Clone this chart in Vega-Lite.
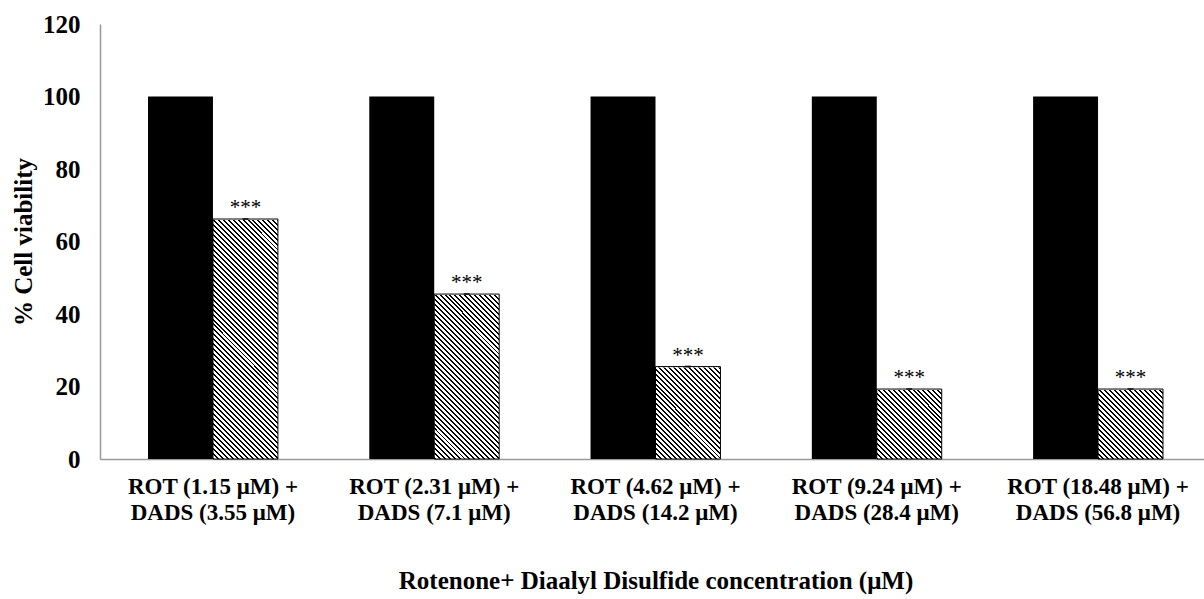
{
  "$schema": "https://vega.github.io/schema/vega-lite/v6.json",
  "width": 1111,
  "height": 435,
  "autosize": {"type": "none"},
  "padding": {"left": 100, "top": 24, "right": 0, "bottom": 140},
  "background": "white",
  "config": {
    "view": {"stroke": null},
    "font": "Liberation Serif",
    "axis": {"grid": false, "ticks": false, "domainColor": "#999999", "domainWidth": 1.5, "labelFont": "Liberation Serif", "labelFontWeight": "bold", "labelColor": "#000000", "titleFont": "Liberation Serif", "titleFontWeight": "bold", "titleColor": "#000000"},
    "axisY": {"labelFontSize": 25, "labelPadding": 20, "titleFontSize": 25, "titlePadding": 6, "tickCount": 6},
    "axisX": {"labelFontSize": 23, "labelPadding": 16, "labelLineHeight": 26, "labelAngle": 0, "labelLimit": 0, "titleFontSize": 25, "titlePadding": 44}
  },
  "data": {
    "values": [
      {"group": "ROT (1.15 μM) + DADS (3.55 μM)", "treatment": "Rotenone", "value": 100},
      {"group": "ROT (1.15 μM) + DADS (3.55 μM)", "treatment": "Rotenone + DADS", "value": 66.2, "sig": "***"},
      {"group": "ROT (2.31 μM) + DADS (7.1 μM)", "treatment": "Rotenone", "value": 100},
      {"group": "ROT (2.31 μM) + DADS (7.1 μM)", "treatment": "Rotenone + DADS", "value": 45.5, "sig": "***"},
      {"group": "ROT (4.62 μM) + DADS (14.2 μM)", "treatment": "Rotenone", "value": 100},
      {"group": "ROT (4.62 μM) + DADS (14.2 μM)", "treatment": "Rotenone + DADS", "value": 25.5, "sig": "***"},
      {"group": "ROT (9.24 μM) + DADS (28.4 μM)", "treatment": "Rotenone", "value": 100},
      {"group": "ROT (9.24 μM) + DADS (28.4 μM)", "treatment": "Rotenone + DADS", "value": 19.3, "sig": "***"},
      {"group": "ROT (18.48 μM) + DADS (56.8 μM)", "treatment": "Rotenone", "value": 100},
      {"group": "ROT (18.48 μM) + DADS (56.8 μM)", "treatment": "Rotenone + DADS", "value": 19.3, "sig": "***"}
    ]
  },
  "encoding": {
    "x": {
      "field": "group", "type": "nominal", "sort": null,
      "scale": {"paddingInner": 0.413, "paddingOuter": 0.217},
      "title": "Rotenone+ Diaalyl Disulfide concentration (μM)",
      "axis": {"labelExpr": "[split(datum.label, '+ ')[0] + '+', split(datum.label, '+ ')[1]]"}
    },
    "xOffset": {"field": "treatment", "type": "nominal", "sort": ["Rotenone", "Rotenone + DADS"], "scale": {"paddingInner": 0, "paddingOuter": 0}}
  },
  "layer": [
    {
      "transform": [{"filter": "datum.treatment === 'Rotenone + DADS'"}],
      "mark": {
        "type": "bar",
        "fill": {
          "gradient": "linear", "x1": 0, "y1": 1, "x2": 0.3166, "y2": -0.1829,
          "stops": [
            {"offset":0,"color":"#000"},{"offset":0.0065,"color":"#000"},{"offset":0.0065,"color":"#fff"},{"offset":0.0161,"color":"#fff"},
            {"offset":0.0161,"color":"#000"},{"offset":0.0226,"color":"#000"},{"offset":0.0226,"color":"#fff"},{"offset":0.0323,"color":"#fff"},
            {"offset":0.0323,"color":"#000"},{"offset":0.0387,"color":"#000"},{"offset":0.0387,"color":"#fff"},{"offset":0.0484,"color":"#fff"},
            {"offset":0.0484,"color":"#000"},{"offset":0.0548,"color":"#000"},{"offset":0.0548,"color":"#fff"},{"offset":0.0645,"color":"#fff"},
            {"offset":0.0645,"color":"#000"},{"offset":0.0710,"color":"#000"},{"offset":0.0710,"color":"#fff"},{"offset":0.0806,"color":"#fff"},
            {"offset":0.0806,"color":"#000"},{"offset":0.0871,"color":"#000"},{"offset":0.0871,"color":"#fff"},{"offset":0.0968,"color":"#fff"},
            {"offset":0.0968,"color":"#000"},{"offset":0.1032,"color":"#000"},{"offset":0.1032,"color":"#fff"},{"offset":0.1129,"color":"#fff"},
            {"offset":0.1129,"color":"#000"},{"offset":0.1194,"color":"#000"},{"offset":0.1194,"color":"#fff"},{"offset":0.1290,"color":"#fff"},
            {"offset":0.1290,"color":"#000"},{"offset":0.1355,"color":"#000"},{"offset":0.1355,"color":"#fff"},{"offset":0.1452,"color":"#fff"},
            {"offset":0.1452,"color":"#000"},{"offset":0.1516,"color":"#000"},{"offset":0.1516,"color":"#fff"},{"offset":0.1613,"color":"#fff"},
            {"offset":0.1613,"color":"#000"},{"offset":0.1677,"color":"#000"},{"offset":0.1677,"color":"#fff"},{"offset":0.1774,"color":"#fff"},
            {"offset":0.1774,"color":"#000"},{"offset":0.1839,"color":"#000"},{"offset":0.1839,"color":"#fff"},{"offset":0.1935,"color":"#fff"},
            {"offset":0.1935,"color":"#000"},{"offset":0.2000,"color":"#000"},{"offset":0.2000,"color":"#fff"},{"offset":0.2097,"color":"#fff"},
            {"offset":0.2097,"color":"#000"},{"offset":0.2161,"color":"#000"},{"offset":0.2161,"color":"#fff"},{"offset":0.2258,"color":"#fff"},
            {"offset":0.2258,"color":"#000"},{"offset":0.2323,"color":"#000"},{"offset":0.2323,"color":"#fff"},{"offset":0.2419,"color":"#fff"},
            {"offset":0.2419,"color":"#000"},{"offset":0.2484,"color":"#000"},{"offset":0.2484,"color":"#fff"},{"offset":0.2581,"color":"#fff"},
            {"offset":0.2581,"color":"#000"},{"offset":0.2645,"color":"#000"},{"offset":0.2645,"color":"#fff"},{"offset":0.2742,"color":"#fff"},
            {"offset":0.2742,"color":"#000"},{"offset":0.2806,"color":"#000"},{"offset":0.2806,"color":"#fff"},{"offset":0.2903,"color":"#fff"},
            {"offset":0.2903,"color":"#000"},{"offset":0.2968,"color":"#000"},{"offset":0.2968,"color":"#fff"},{"offset":0.3065,"color":"#fff"},
            {"offset":0.3065,"color":"#000"},{"offset":0.3129,"color":"#000"},{"offset":0.3129,"color":"#fff"},{"offset":0.3226,"color":"#fff"},
            {"offset":0.3226,"color":"#000"},{"offset":0.3290,"color":"#000"},{"offset":0.3290,"color":"#fff"},{"offset":0.3387,"color":"#fff"},
            {"offset":0.3387,"color":"#000"},{"offset":0.3452,"color":"#000"},{"offset":0.3452,"color":"#fff"},{"offset":0.3548,"color":"#fff"},
            {"offset":0.3548,"color":"#000"},{"offset":0.3613,"color":"#000"},{"offset":0.3613,"color":"#fff"},{"offset":0.3710,"color":"#fff"},
            {"offset":0.3710,"color":"#000"},{"offset":0.3774,"color":"#000"},{"offset":0.3774,"color":"#fff"},{"offset":0.3871,"color":"#fff"},
            {"offset":0.3871,"color":"#000"},{"offset":0.3935,"color":"#000"},{"offset":0.3935,"color":"#fff"},{"offset":0.4032,"color":"#fff"},
            {"offset":0.4032,"color":"#000"},{"offset":0.4097,"color":"#000"},{"offset":0.4097,"color":"#fff"},{"offset":0.4194,"color":"#fff"},
            {"offset":0.4194,"color":"#000"},{"offset":0.4258,"color":"#000"},{"offset":0.4258,"color":"#fff"},{"offset":0.4355,"color":"#fff"},
            {"offset":0.4355,"color":"#000"},{"offset":0.4419,"color":"#000"},{"offset":0.4419,"color":"#fff"},{"offset":0.4516,"color":"#fff"},
            {"offset":0.4516,"color":"#000"},{"offset":0.4581,"color":"#000"},{"offset":0.4581,"color":"#fff"},{"offset":0.4677,"color":"#fff"},
            {"offset":0.4677,"color":"#000"},{"offset":0.4742,"color":"#000"},{"offset":0.4742,"color":"#fff"},{"offset":0.4839,"color":"#fff"},
            {"offset":0.4839,"color":"#000"},{"offset":0.4903,"color":"#000"},{"offset":0.4903,"color":"#fff"},{"offset":0.5000,"color":"#fff"},
            {"offset":0.5000,"color":"#000"},{"offset":0.5065,"color":"#000"},{"offset":0.5065,"color":"#fff"},{"offset":0.5161,"color":"#fff"},
            {"offset":0.5161,"color":"#000"},{"offset":0.5226,"color":"#000"},{"offset":0.5226,"color":"#fff"},{"offset":0.5323,"color":"#fff"},
            {"offset":0.5323,"color":"#000"},{"offset":0.5387,"color":"#000"},{"offset":0.5387,"color":"#fff"},{"offset":0.5484,"color":"#fff"},
            {"offset":0.5484,"color":"#000"},{"offset":0.5548,"color":"#000"},{"offset":0.5548,"color":"#fff"},{"offset":0.5645,"color":"#fff"},
            {"offset":0.5645,"color":"#000"},{"offset":0.5710,"color":"#000"},{"offset":0.5710,"color":"#fff"},{"offset":0.5806,"color":"#fff"},
            {"offset":0.5806,"color":"#000"},{"offset":0.5871,"color":"#000"},{"offset":0.5871,"color":"#fff"},{"offset":0.5968,"color":"#fff"},
            {"offset":0.5968,"color":"#000"},{"offset":0.6032,"color":"#000"},{"offset":0.6032,"color":"#fff"},{"offset":0.6129,"color":"#fff"},
            {"offset":0.6129,"color":"#000"},{"offset":0.6194,"color":"#000"},{"offset":0.6194,"color":"#fff"},{"offset":0.6290,"color":"#fff"},
            {"offset":0.6290,"color":"#000"},{"offset":0.6355,"color":"#000"},{"offset":0.6355,"color":"#fff"},{"offset":0.6452,"color":"#fff"},
            {"offset":0.6452,"color":"#000"},{"offset":0.6516,"color":"#000"},{"offset":0.6516,"color":"#fff"},{"offset":0.6613,"color":"#fff"},
            {"offset":0.6613,"color":"#000"},{"offset":0.6677,"color":"#000"},{"offset":0.6677,"color":"#fff"},{"offset":0.6774,"color":"#fff"},
            {"offset":0.6774,"color":"#000"},{"offset":0.6839,"color":"#000"},{"offset":0.6839,"color":"#fff"},{"offset":0.6935,"color":"#fff"},
            {"offset":0.6935,"color":"#000"},{"offset":0.7000,"color":"#000"},{"offset":0.7000,"color":"#fff"},{"offset":0.7097,"color":"#fff"},
            {"offset":0.7097,"color":"#000"},{"offset":0.7161,"color":"#000"},{"offset":0.7161,"color":"#fff"},{"offset":0.7258,"color":"#fff"},
            {"offset":0.7258,"color":"#000"},{"offset":0.7323,"color":"#000"},{"offset":0.7323,"color":"#fff"},{"offset":0.7419,"color":"#fff"},
            {"offset":0.7419,"color":"#000"},{"offset":0.7484,"color":"#000"},{"offset":0.7484,"color":"#fff"},{"offset":0.7581,"color":"#fff"},
            {"offset":0.7581,"color":"#000"},{"offset":0.7645,"color":"#000"},{"offset":0.7645,"color":"#fff"},{"offset":0.7742,"color":"#fff"},
            {"offset":0.7742,"color":"#000"},{"offset":0.7806,"color":"#000"},{"offset":0.7806,"color":"#fff"},{"offset":0.7903,"color":"#fff"},
            {"offset":0.7903,"color":"#000"},{"offset":0.7968,"color":"#000"},{"offset":0.7968,"color":"#fff"},{"offset":0.8065,"color":"#fff"},
            {"offset":0.8065,"color":"#000"},{"offset":0.8129,"color":"#000"},{"offset":0.8129,"color":"#fff"},{"offset":0.8226,"color":"#fff"},
            {"offset":0.8226,"color":"#000"},{"offset":0.8290,"color":"#000"},{"offset":0.8290,"color":"#fff"},{"offset":0.8387,"color":"#fff"},
            {"offset":0.8387,"color":"#000"},{"offset":0.8452,"color":"#000"},{"offset":0.8452,"color":"#fff"},{"offset":0.8548,"color":"#fff"},
            {"offset":0.8548,"color":"#000"},{"offset":0.8613,"color":"#000"},{"offset":0.8613,"color":"#fff"},{"offset":0.8710,"color":"#fff"},
            {"offset":0.8710,"color":"#000"},{"offset":0.8774,"color":"#000"},{"offset":0.8774,"color":"#fff"},{"offset":0.8871,"color":"#fff"},
            {"offset":0.8871,"color":"#000"},{"offset":0.8935,"color":"#000"},{"offset":0.8935,"color":"#fff"},{"offset":0.9032,"color":"#fff"},
            {"offset":0.9032,"color":"#000"},{"offset":0.9097,"color":"#000"},{"offset":0.9097,"color":"#fff"},{"offset":0.9194,"color":"#fff"},
            {"offset":0.9194,"color":"#000"},{"offset":0.9258,"color":"#000"},{"offset":0.9258,"color":"#fff"},{"offset":0.9355,"color":"#fff"},
            {"offset":0.9355,"color":"#000"},{"offset":0.9419,"color":"#000"},{"offset":0.9419,"color":"#fff"},{"offset":0.9516,"color":"#fff"},
            {"offset":0.9516,"color":"#000"},{"offset":0.9581,"color":"#000"},{"offset":0.9581,"color":"#fff"},{"offset":0.9677,"color":"#fff"},
            {"offset":0.9677,"color":"#000"},{"offset":0.9742,"color":"#000"},{"offset":0.9742,"color":"#fff"},{"offset":0.9839,"color":"#fff"},
            {"offset":0.9839,"color":"#000"},{"offset":0.9903,"color":"#000"},{"offset":0.9903,"color":"#fff"},{"offset":1,"color":"#fff"}
          ]
        }
      },
      "encoding": {
        "y": {"datum": 67, "type": "quantitative", "scale": {"domain": [0, 120]}, "title": "% Cell viability"},
        "y2": {"datum": 0}
      }
    },
    {
      "transform": [{"filter": "datum.treatment === 'Rotenone + DADS'"}],
      "mark": {"type": "bar", "fill": "white", "stroke": "white", "strokeWidth": 2},
      "encoding": {
        "y": {"field": "value", "type": "quantitative", "title": "% Cell viability"},
        "y2": {"datum": 67}
      }
    },
    {
      "transform": [{"filter": "datum.treatment === 'Rotenone'"}],
      "mark": {"type": "bar", "fill": "#000000"},
      "encoding": {
        "y": {"field": "value", "type": "quantitative", "title": "% Cell viability"}
      }
    },
    {
      "transform": [{"filter": "datum.treatment === 'Rotenone + DADS'"}],
      "mark": {"type": "bar", "filled": false, "color": "#000000", "strokeWidth": 1},
      "encoding": {
        "y": {"field": "value", "type": "quantitative", "title": "% Cell viability"}
      }
    },
    {
      "transform": [{"filter": "datum.treatment === 'Rotenone + DADS'"}],
      "mark": {"type": "tick", "orient": "horizontal", "size": 6, "thickness": 2, "color": "#000000"},
      "encoding": {
        "y": {"field": "value", "type": "quantitative", "title": "% Cell viability"}
      }
    },
    {
      "transform": [{"filter": "isValid(datum.sig)"}],
      "mark": {"type": "text", "dy": -11, "fontSize": 21, "font": "Liberation Serif", "color": "#000000"},
      "encoding": {
        "y": {"field": "value", "type": "quantitative", "title": "% Cell viability"},
        "text": {"field": "sig"}
      }
    }
  ]
}
